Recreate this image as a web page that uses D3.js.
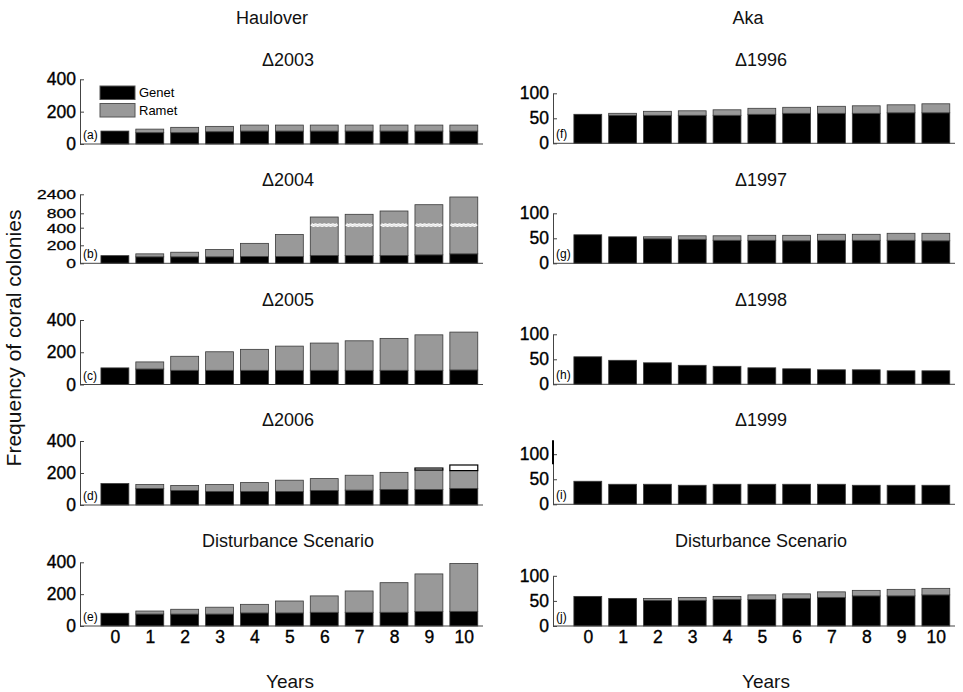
<!DOCTYPE html>
<html>
<head>
<meta charset="utf-8">
<script src="https://cdn.jsdelivr.net/npm/d3@7/dist/d3.min.js"></script>
<style>
  html, body { margin: 0; padding: 0; background: #fff; }
  svg { display: block; font-family: "Liberation Sans", Arial, sans-serif; }
</style>
</head>
<body>
<svg id="chart" width="963" height="692"></svg>
<script>
// ---------------- DATA ----------------
const years = [0, 1, 2, 3, 4, 5, 6, 7, 8, 9, 10];
const seriesNames = ["Genet", "Ramet"];

// Haulover
const genetA = [80, 70, 70, 76, 80, 80, 80, 80, 80, 80, 80];
const rametA = [0, 22, 33, 33, 37, 37, 37, 37, 37, 37, 37];
const genetB = [85, 72, 72, 72, 75, 75, 87, 87, 87, 94, 105];
const rametB = [0, 33, 51, 81, 147, 247, 610, 685, 907, 1430, 2068];
const genetC = [103, 96, 88, 88, 88, 88, 88, 88, 88, 88, 90];
const rametC = [0, 44, 87, 115, 130, 150, 169, 183, 198, 220, 235];
const genetD = [134, 103, 91, 85, 85, 85, 91, 93, 97, 97, 103];
const rametD = [0, 25, 31, 43, 55, 70, 74, 93, 107, 122, 112];
const extraD = [0, 0, 0, 0, 0, 0, 0, 0, 0, 12, 35];
const genetE = [80, 75, 75, 75, 82, 82, 86, 86, 86, 92, 92];
const rametE = [0, 19, 30, 43, 54, 75, 103, 134, 186, 235, 300];

// Aka
const genetF = [58, 56, 56, 56, 56, 58, 60, 60, 60, 61, 61];
const rametF = [0, 4, 8, 9, 11, 12, 12, 14, 15, 16, 18];
const genetG = [57, 53, 49, 48, 46, 46, 45, 46, 46, 46, 45];
const rametG = [0, 0, 4, 7, 9, 10, 11, 12, 12, 14, 15];
const genetH = [55, 48, 43, 38, 36, 33, 31, 29, 29, 27, 27];
const rametH = [0, 0, 0, 0, 0, 0, 0, 0, 0, 0, 0];
const genetI = [46, 40, 40, 38, 40, 40, 40, 40, 38, 38, 38];
const rametI = [0, 0, 0, 0, 0, 0, 0, 0, 0, 0, 0];
const genetJ = [59, 55, 51, 51, 53, 53, 55, 57, 60, 60, 62];
const rametJ = [0, 0, 4, 6, 6, 9, 9, 11, 11, 13, 13];

// Ticks
const ticksLeft = [0, 200, 400];
const ticksBroken = [0, 200, 400, 800, 2400];
const ticksRight = [0, 50, 100];
const breakValueB = 470;

const columnTitles = ["Haulover", "Aka"];
const titlesLeft = ["\u03942003", "\u03942004", "\u03942005", "\u03942006", "Disturbance Scenario"];
const titlesRight = ["\u03941996", "\u03941997", "\u03941998", "\u03941999", "Disturbance Scenario"];
const letters = ["a", "b", "c", "d", "e", "f", "g", "h", "i", "j"];

// ---------------- LAYOUT ----------------
const svg = d3.select("#chart");
const FONT = "\"Liberation Sans\", Arial, sans-serif";
const GENET = "#000000", RAMET = "#999999", EDGE = "#3a3a3a", AXIS = "#444444";

const colX = [{x0: 80, x1: 483, title: 288, colTitle: 272, years: 290},
              {x0: 553, x1: 955, title: 761, colTitle: 748, years: 766}];
const rowsLeft = [
  {base: 144, ref: 400, refY: 79.3, titleY: 66},
  {base: 263.3, titleY: 186},
  {base: 384.5, ref: 400, refY: 320, titleY: 306},
  {base: 505, ref: 400, refY: 441, titleY: 426},
  {base: 626, ref: 400, refY: 562.3, titleY: 547}
];
const rowsRight = [
  {base: 143.3, ref: 100, refY: 93.3, titleY: 66},
  {base: 263.3, ref: 100, refY: 213.3, titleY: 186},
  {base: 384.3, ref: 100, refY: 334.3, titleY: 306},
  {base: 504.3, ref: 100, refY: 454.2, titleY: 426},
  {base: 626, ref: 100, refY: 575.8, titleY: 547}
];

const panels = [
  {col: 0, row: 0, genet: genetA, ramet: rametA, ticks: ticksLeft, top: 400, title: titlesLeft[0], legend: true},
  {col: 0, row: 1, genet: genetB, ramet: rametB, ticks: ticksBroken, top: 2400, title: titlesLeft[1], broken: true},
  {col: 0, row: 2, genet: genetC, ramet: rametC, ticks: ticksLeft, top: 400, title: titlesLeft[2]},
  {col: 0, row: 3, genet: genetD, ramet: rametD, extra: extraD, ticks: ticksLeft, top: 400, title: titlesLeft[3]},
  {col: 0, row: 4, genet: genetE, ramet: rametE, ticks: ticksLeft, top: 400, title: titlesLeft[4], xaxis: true},
  {col: 1, row: 0, genet: genetF, ramet: rametF, ticks: ticksRight, top: 128, title: titlesRight[0]},
  {col: 1, row: 1, genet: genetG, ramet: rametG, ticks: ticksRight, top: 128, title: titlesRight[1]},
  {col: 1, row: 2, genet: genetH, ramet: rametH, ticks: ticksRight, top: 128, title: titlesRight[2]},
  {col: 1, row: 3, genet: genetI, ramet: rametI, ticks: ticksRight, top: 128, title: titlesRight[3], thickTop: true},
  {col: 1, row: 4, genet: genetJ, ramet: rametJ, ticks: ticksRight, top: 128, title: titlesRight[4], xaxis: true}
];

columnTitles.forEach((t, i) => {
  svg.append("text").attr("x", colX[i].colTitle).attr("y", 24)
    .attr("text-anchor", "middle").attr("font-size", 18).attr("fill", "#111").text(t);
});

svg.append("text")
  .attr("transform", "translate(21,338) rotate(-90)")
  .attr("text-anchor", "middle").attr("font-size", 21).attr("fill", "#111")
  .text("Frequency of coral colonies");

panels.forEach((p, idx) => {
  const c = colX[p.col];
  const r = (p.col === 0 ? rowsLeft : rowsRight)[p.row];
  const x = d3.scaleLinear().domain([-1, 10.55]).range([c.x0, c.x1]);
  let y;
  if (p.broken) {
    y = d3.scaleLinear().domain(ticksBroken).range([263.3, 245.3, 227.7, 213.3, 194.3]);
  } else {
    y = d3.scaleLinear().domain([0, r.ref]).range([r.base, r.refY]);
  }
  const g = svg.append("g");
  const bw = x(0.4) - x(-0.4);

  const data = years.map((yr, i) => ({
    yr, genet: p.genet[i], ramet: p.ramet[i], extra: p.extra ? p.extra[i] : 0
  }));
  const stack = d3.stack().keys(["genet", "ramet", "extra"])(data);
  const fills = {genet: GENET, ramet: RAMET, extra: "#ffffff"};

  stack.forEach(layer => {
    g.selectAll(null).data(layer.filter(d => d[1] > d[0])).enter().append("rect")
      .attr("x", d => x(d.data.yr) - bw / 2)
      .attr("width", bw)
      .attr("y", d => y(d[1]))
      .attr("height", d => y(d[0]) - y(d[1]))
      .attr("fill", fills[layer.key])
      .attr("stroke", layer.key === "extra" ? "#000" : EDGE)
      .attr("stroke-width", layer.key === "extra" ? 1.2 : 0.8);
  });

  if (p.broken) {
    const by = y(breakValueB);
    data.filter(d => d.genet + d.ramet > breakValueB).forEach(d => {
      const xs = d3.range(0, 13).map(k => x(d.yr) - bw / 2 + 1 + k * (bw - 2) / 12);
      const pts = xs.map((xx, k) => [xx, by + (k % 2 === 0 ? -1 : 1)]);
      g.append("path").attr("d", d3.line().curve(d3.curveBasis)(pts))
        .attr("fill", "none").attr("stroke", "#fff").attr("stroke-width", 3);
      g.append("path").attr("d", d3.line().curve(d3.curveBasis)(pts))
        .attr("fill", "none").attr("stroke", "#cfcfcf").attr("stroke-width", 0.8);
    });
  }

  g.append("line").attr("x1", c.x0).attr("x2", c.x1)
    .attr("y1", y(0)).attr("y2", y(0)).attr("stroke", AXIS).attr("stroke-width", 1);

  const ax = g.append("g").attr("transform", `translate(${c.x0},0)`)
    .call(d3.axisLeft(y).tickValues(p.ticks).tickSizeInner(-4).tickSizeOuter(0).tickPadding(4)
      .tickFormat(d3.format("d")));
  ax.select(".domain").attr("stroke", AXIS);
  ax.selectAll(".tick line").attr("stroke", AXIS);
  ax.selectAll("text").attr("font-size", 17.5).attr("font-family", FONT).attr("fill", "#000")
    .attr("stroke", "#000").attr("stroke-width", 0.35);
  if (p.broken) {
    ax.selectAll("text").attr("transform", "scale(1,0.72)").attr("dy", "0.36em");
  }
  if (p.thickTop) {
    g.append("line").attr("x1", c.x0).attr("x2", c.x0)
      .attr("y1", y(p.top)).attr("y2", y(80)).attr("stroke", "#000").attr("stroke-width", 2);
  }

  g.append("text").attr("x", c.x0 + 3).attr("y", y(0) - 5)
    .attr("font-size", 12).attr("fill", "#000").text(`(${letters[idx]})`);

  g.append("text").attr("x", c.title).attr("y", r.titleY)
    .attr("text-anchor", "middle").attr("font-size", 18).attr("fill", "#111").text(p.title);

  if (p.xaxis) {
    const xa = g.append("g").attr("transform", `translate(0,${y(0)})`)
      .call(d3.axisBottom(x).tickValues(years).tickSize(0).tickPadding(5).tickFormat(d3.format("d")));
    xa.select(".domain").remove();
    xa.selectAll("text").attr("font-size", 17.5).attr("font-family", FONT).attr("fill", "#000")
      .attr("stroke", "#000").attr("stroke-width", 0.35);
    svg.append("text").attr("x", c.years).attr("y", 688)
      .attr("text-anchor", "middle").attr("font-size", 19).attr("fill", "#111").text("Years");
  }

  if (p.legend) {
    const lg = g.append("g");
    const items = [{name: seriesNames[0], fill: GENET, y0: 86}, {name: seriesNames[1], fill: RAMET, y0: 103.5}];
    items.forEach(it => {
      lg.append("rect").attr("x", 100).attr("y", it.y0).attr("width", 35).attr("height", 13.5)
        .attr("fill", it.fill).attr("stroke", "#555").attr("stroke-width", 1);
      lg.append("text").attr("x", 139).attr("y", it.y0 + 11)
        .attr("font-size", 13).attr("fill", "#000").text(it.name);
    });
  }
});
</script>
</body>
</html>
